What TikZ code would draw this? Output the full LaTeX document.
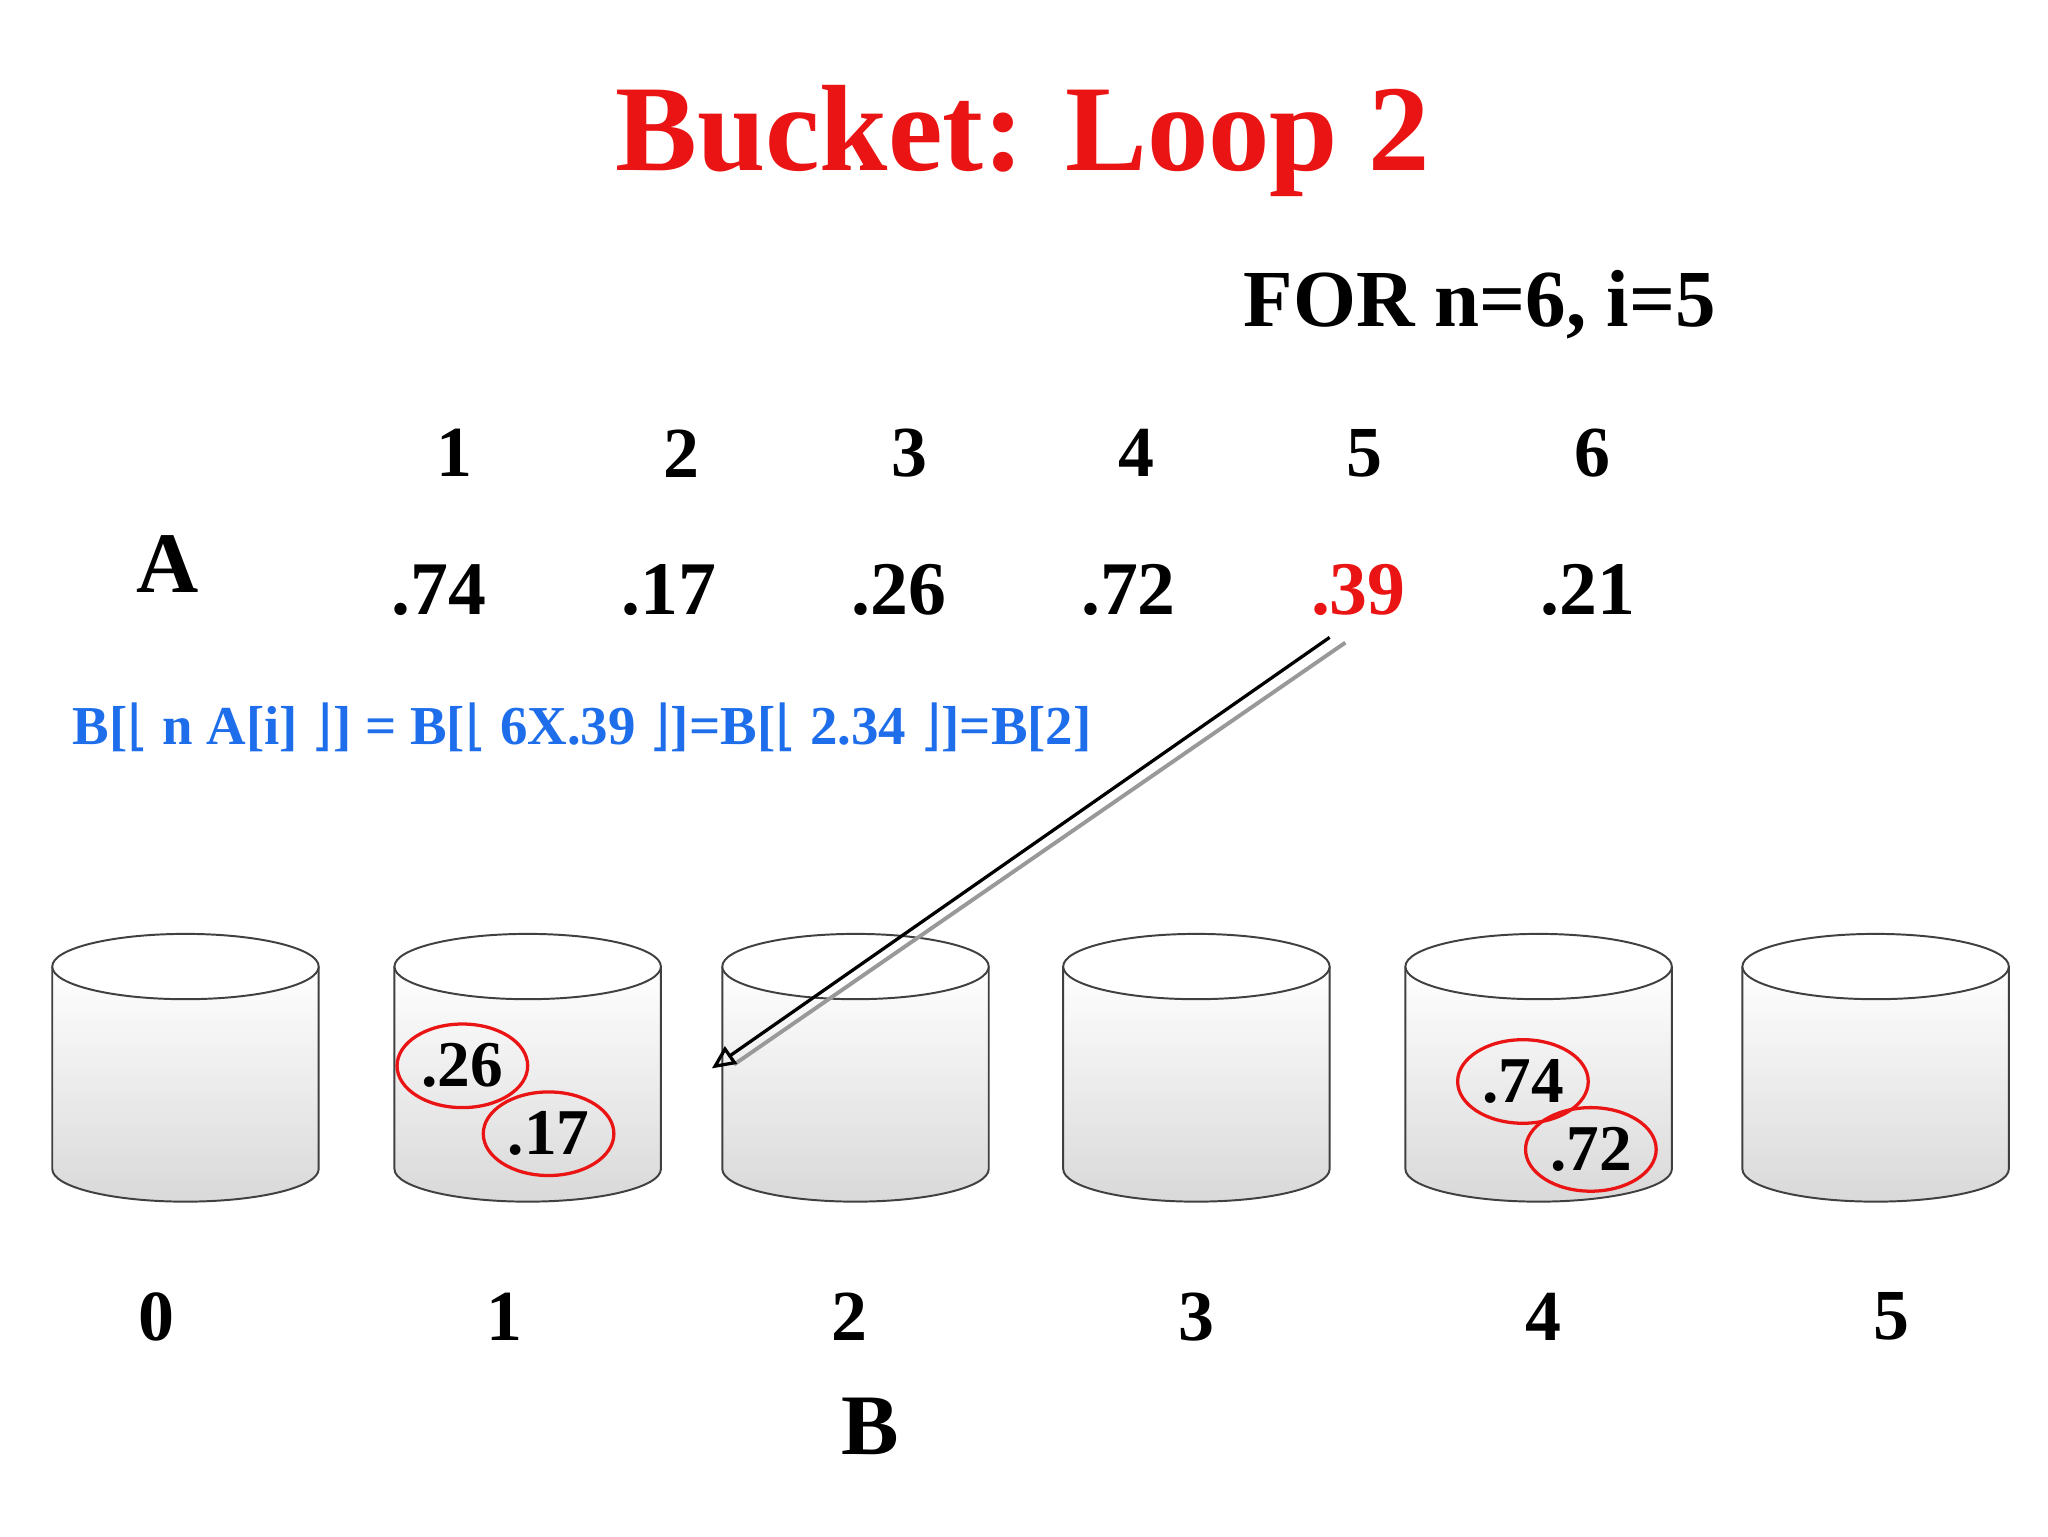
\documentclass[tikz,border=0pt]{standalone}
\usepackage{fontspec}
\setmainfont{Liberation Serif}
\newfontfamily\dv{DejaVu Sans}
\usetikzlibrary{arrows.meta,shapes.geometric}
\definecolor{ttl}{RGB}{235,20,20}
\definecolor{blu}{RGB}{30,110,235}
\tikzset{
 lbl/.style={font=\bfseries\fontsize{55}{60}\selectfont},
 val/.style={font=\bfseries\fontsize{58}{62}\selectfont},
 ring/.style={draw=ttl,line width=2.5pt,ellipse,minimum width=100pt,minimum height=64pt,font=\bfseries\fontsize{50}{54}\selectfont,inner sep=0pt}
}
\newcommand{\fl}{{\dv\mdseries ⌊}}
\newcommand{\fr}{{\dv\mdseries ⌋}}
\newcommand{\bucket}[3]{%
 \fill[top color=white,bottom color=gray!30] (#1-102,740) -- (#1-102,895) arc[start angle=180,end angle=0,x radius=102,y radius=25] -- (#1+102,740) -- cycle;
 \draw[line width=1.5pt,black!75] (#1-102,740) -- (#1-102,895) arc[start angle=180,end angle=0,x radius=102,y radius=25] -- (#1+102,740);
 \draw[line width=1.5pt,black!75,fill=white] (#1,740) ellipse[x radius=102,y radius=25];
 \node[lbl] (b#2) at (#3,1008) {#2};}
\begin{document}
\begin{tikzpicture}[x=1pt,y=-1pt]
\fill[white] (0,0) rectangle (1568,1176);
\node[font=\bfseries\fontsize{94}{100}\selectfont,text=ttl] (title) at (783,108) {Bucket: Loop 2};
\node[font=\bfseries\fontsize{62}{66}\selectfont] (for) at (1133,233) {FOR n=6, i=5};
\node[font=\bfseries\fontsize{66}{70}\selectfont] (A) at (128,432) {A};
\foreach \x/\n in {348/1,522/2,696/3,870/4,1045/5,1219/6} \node[lbl] (i\n) at (\x,347) {\n};
\foreach \x/\v/\n in {336/.74/1,512/.17/2,688/.26/3,864/.72/4,1216/.21/6} \node[val] (v\n) at (\x,452) {\v};
\node[val,text=ttl] (v5) at (1040,452) {.39};
\node[anchor=west,text=blu,font=\bfseries\fontsize{42}{46}\selectfont] (eq) at (52,557) {B[\fl{} n A[i] \fr{}] = B[\fl{} 6X.39 \fr{}]=B[\fl{} 2.34 \fr{}]=B[2]};
\bucket{142}{0}{120}\bucket{404}{1}{386}\bucket{655}{2}{650}\bucket{916}{3}{916}\bucket{1178}{4}{1182}\bucket{1436}{5}{1448}
\node[ring] (r1) at (354,816) {.26};
\node[ring] (r2) at (420,868) {.17};
\node[ring] (r3) at (1166,828) {.74};
\node[ring] (r4) at (1218,880) {.72};
\node[font=\bfseries\fontsize{66}{70}\selectfont] (B) at (666,1092) {B};
\coordinate (s1) at (1018,488); \coordinate (e1) at (545,818);
\coordinate (s2) at (1030,492); \coordinate (e2) at (562,815);
\draw[gray!80,line width=3pt] (s2) -- (e2);
\draw[line width=2.5pt,-{Triangle[open,length=18pt,width=16pt]}] (s1) -- (e1);
\end{tikzpicture}
\end{document}
